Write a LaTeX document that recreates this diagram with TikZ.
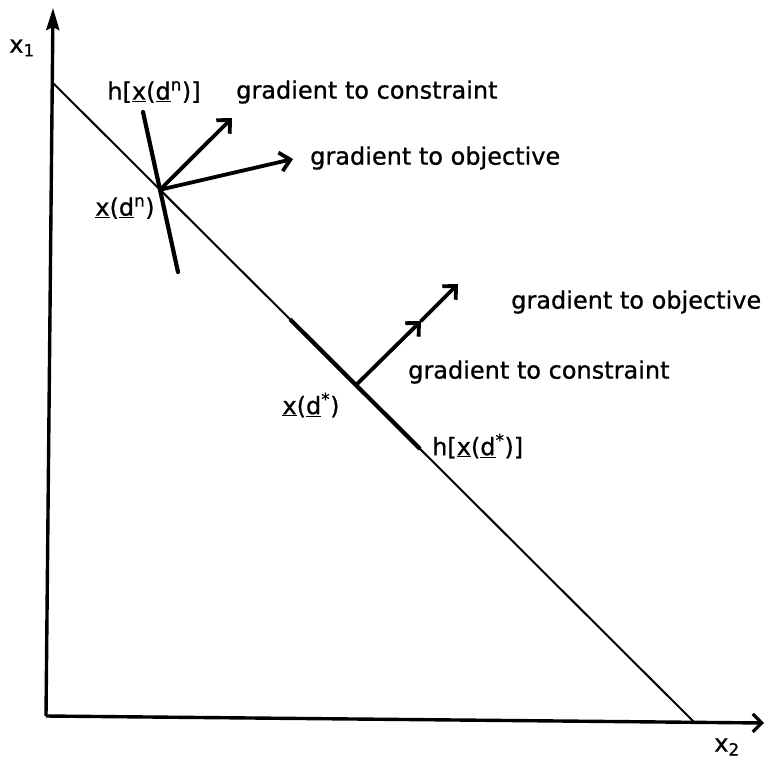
\documentclass[tikz,border=0pt]{standalone}
\usepackage{fontspec}
\setmainfont{DejaVu Sans}
\newfontfamily\lblfont{DejaVu Sans}[FakeBold=0.8]
\usetikzlibrary{arrows.meta}
\newcommand{\ux}{\underline{x}}
\newcommand{\ud}{\underline{d}}
\begin{document}
\begin{tikzpicture}[x=1pt,y=-1pt,
  axis/.style={line width=3.4pt},
  cline/.style={line width=2pt},
  thickseg/.style={line width=4.2pt},
  grad/.style={line width=3.8pt, line cap=round, -{Straight Barb[length=10pt,width=19pt,line width=3.8pt]}},
  lbl/.style={font=\lblfont\fontsize{24}{28}\selectfont, inner sep=0pt}]
\useasboundingbox (0,0) rectangle (767,769);
\fill[white] (0,0) rectangle (767,769);
% axes
\coordinate (O) at (46,716);
\coordinate (Ytop) at (53,8);
\coordinate (Xend) at (764,723);
\draw[axis, -{Stealth[length=22pt,width=13pt,inset=3pt]}] (O) -- (Ytop);
\draw[axis, -{Straight Barb[length=9pt,width=18pt,line width=3.2pt]}] (O) -- (Xend);
% constraint line
\coordinate (A) at (53,83);
\coordinate (B) at (694,722);
\draw[cline] (A) -- (B);
\path (A) -- (B)
  coordinate[pos=0.167] (Pn)
  coordinate[pos=0.370] (S1)
  coordinate[pos=0.4727] (Ps)
  coordinate[pos=0.5725] (S2);
\draw[thickseg] (S1) -- (Ps) -- (S2);
% tangent at x(d^n)
\coordinate (T1) at (143,112);
\coordinate (T2) at (178,272);
\draw[thickseg, line cap=round] (T1) -- (T2);
% gradients at x(d^n)
\coordinate (Gc) at (232,118);
\coordinate (Go) at (293,159);
\draw[grad] (Pn) -- (Gc);
\draw[grad] (Pn) -- (Go);
% gradients at x(d*)
\coordinate (Gm) at (421,321);
\coordinate (Ge) at (458,284);
\draw[grad] (Ps) -- (Gm);
\draw[grad] (Gm) -- (Ge);
% labels
\node[lbl] (x1) at (22,48) {x\textsubscript{1}};
\node[lbl] (x2) at (727,747) {x\textsubscript{2}};
\node[lbl] (hn) at (154,92) {h[\ux(\ud\textsuperscript{n})]};
\node[lbl, anchor=west] (gc1) at (236,92) {gradient to constraint};
\node[lbl, anchor=west] (go1) at (310,158) {gradient to objective};
\node[lbl] (xn) at (125,208) {\ux(\ud\textsuperscript{n})};
\node[lbl, anchor=west] (go2) at (511,302) {gradient to objective};
\node[lbl, anchor=west] (gc2) at (408,372) {gradient to constraint};
\node[lbl] (xs) at (311,405) {\ux(\ud\textsuperscript{*})};
\node[lbl, anchor=west] (hs) at (432,446) {h[\ux(\ud\textsuperscript{*})]};
\end{tikzpicture}
\end{document}
